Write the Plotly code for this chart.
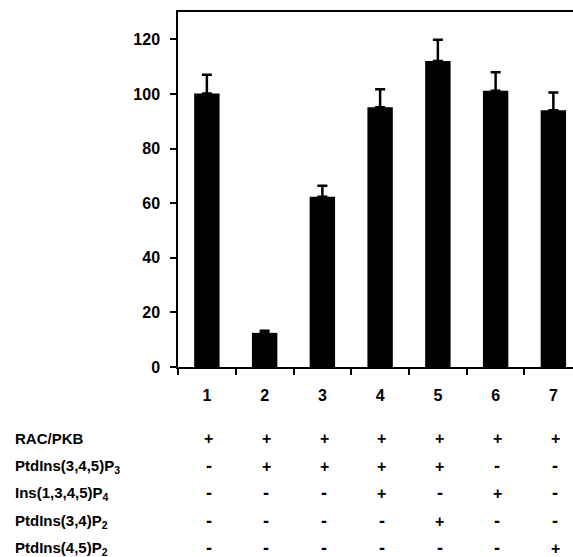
import plotly.graph_objects as go

# ---- data ----
lanes = ["1", "2", "3", "4", "5", "6", "7"]
activity = [100.2, 12.5, 62.3, 95.1, 112.1, 101.2, 94.0]
err_up = [6.8, 0.8, 4.1, 6.6, 7.7, 6.7, 6.5]
row_labels = ["RAC/PKB", "PtdIns(3,4,5)P<sub>3</sub>", "Ins(1,3,4,5)P<sub>4</sub>",
              "PtdIns(3,4)P<sub>2</sub>", "PtdIns(4,5)P<sub>2</sub>"]
row_signs = [
    ["+", "+", "+", "+", "+", "+", "+"],
    ["-", "+", "+", "+", "+", "-", "-"],
    ["-", "-", "-", "+", "-", "+", "-"],
    ["-", "-", "-", "-", "+", "-", "-"],
    ["-", "-", "-", "-", "-", "-", "+"],
]
y_ticks = [0, 20, 40, 60, 80, 100, 120]

# ---- layout constants (pixels) ----
W, H = 573, 557
L, R, T, B = 178, 0, 12, 190
plot_h = H - T - B
plot_w = W - L - R
FONT = "Liberation Sans, Arial, Helvetica, sans-serif"

fig = go.Figure()
fig.add_trace(go.Bar(
    x=lanes, y=activity, width=0.44,
    marker=dict(color="black", line=dict(width=0)),
    error_y=dict(type="data", symmetric=False, array=err_up,
                 arrayminus=[0] * len(err_up), color="black",
                 thickness=2.5, width=5),
    showlegend=False,
))

row_y_px = [438, 466, 493, 521, 548]
label_x_px = 13
annotations = []
for i, (lab, signs) in enumerate(zip(row_labels, row_signs)):
    ypaper = (H - B - row_y_px[i]) / plot_h
    annotations.append(dict(
        text=lab, xref="paper", yref="paper",
        x=(label_x_px - L) / plot_w, y=ypaper,
        xanchor="left", yanchor="middle", showarrow=False,
        font=dict(family=FONT, size=15, color="black", weight=700),
    ))
    for j, s in enumerate(signs):
        annotations.append(dict(
            text=s, xref="x", yref="paper", x=j + 0.03, y=ypaper,
            xanchor="center", yanchor="middle", showarrow=False,
            font=dict(family=FONT, size=16 if s == "+" else 18,
                      color="black", weight=700),
        ))

fig.update_layout(
    width=W, height=H,
    margin=dict(l=L, r=R, t=T, b=B, pad=0),
    paper_bgcolor="white", plot_bgcolor="white",
    font=dict(family=FONT, size=15, color="black", weight=700),
    bargap=0.56,
    annotations=annotations,
    xaxis=dict(
        type="category", range=[-0.5, 6.34],
        showline=True, linecolor="black", linewidth=1.5, mirror=True,
        ticks="outside", tickson="boundaries", ticklen=6, tickwidth=1.5,
        tickcolor="black", showgrid=False, zeroline=False,
        tickfont=dict(family=FONT, size=16, color="black", weight=700),
        ticklabelstandoff=13,
    ),
    yaxis=dict(
        range=[0, 130], tickvals=y_ticks,
        showline=True, linecolor="black", linewidth=1.5,
        ticks="outside", ticklen=6, tickwidth=1.5, tickcolor="black",
        showgrid=False, zeroline=False,
        tickfont=dict(family=FONT, size=16, color="black", weight=700),
        ticklabelstandoff=7,
    ),
)

fig.write_html(
    "out.html",
    config={"displayModeBar": False},
    post_script="document.body.style.margin='0';document.body.style.overflow='hidden';",
)
